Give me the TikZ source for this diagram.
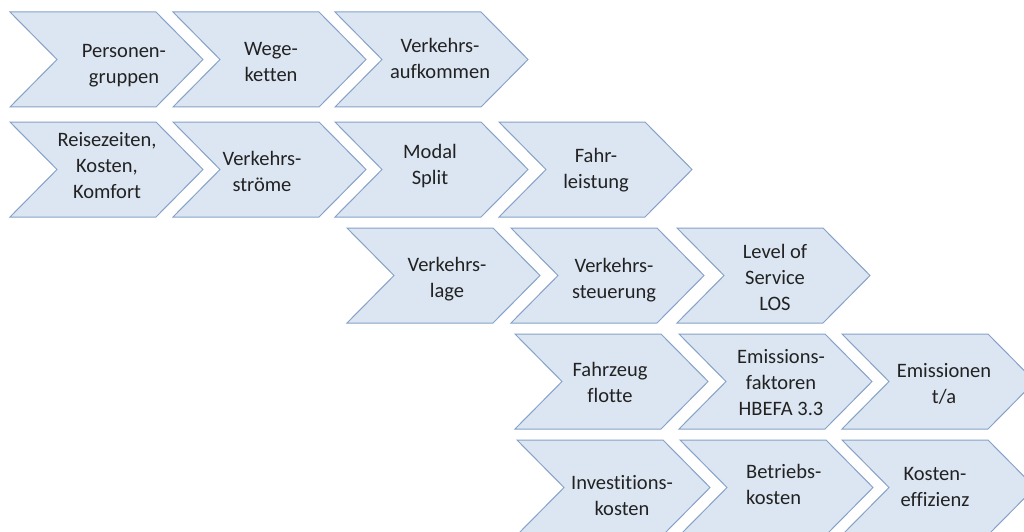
\documentclass[tikz,border=0pt]{standalone}
\usepackage{fontspec}
\setmainfont{Carlito}[Ligatures={NoCommon}]
\definecolor{chevfill}{HTML}{DCE6F2}
\definecolor{chevline}{HTML}{86A2C8}
\definecolor{chevtext}{HTML}{222222}
\tikzset{
  chevshape/.style={fill=chevfill, draw=chevline, line width=1pt, line join=miter},
  chevlabel/.style={font=\fontsize{20.5}{26}\selectfont, text=chevtext, align=center, inner sep=0pt},
}
% chevron: #1 = left x, #2 = top y (body 146 wide, point 47 deep, 95 high)
\newcommand\chevpath[2]{%
  \path[chevshape] (#1,#2) -- ++(146,0) -- ++(47,47.5) -- ++(-47,47.5)
    -- ++(-146,0) -- ++(47,-47.5) -- cycle;}
\begin{document}
\begin{tikzpicture}[x=1pt,y=-1pt]
\path[use as bounding box] (0,0) rectangle (1024,532);
\clip (0,0) rectangle (1024,532);
\fill[white] (0,0) rectangle (1024,532);

% row 1
\chevpath{10}{12}
\chevpath{173}{12}
\chevpath{335}{12}
\node[chevlabel] (personen) at (124,65) {\strut Personen-\\\strut gruppen};
\node[chevlabel] (wege) at (271,63) {\strut Wege-\\\strut ketten};
\node[chevlabel] (aufkommen) at (440,60) {\strut Verkehrs-\\\strut aufkommen};

% row 2
\chevpath{10}{122}
\chevpath{173}{122}
\chevpath{335}{122}
\chevpath{499}{122}
\node[chevlabel] (reisezeiten) at (107,167) {\strut Reisezeiten,\\\strut Kosten,\\\strut Komfort};
\node[chevlabel] (stroeme) at (262,173) {\strut Verkehrs-\\\strut ströme};
\node[chevlabel] (modal) at (430,166) {\strut Modal\\\strut Split};
\node[chevlabel] (fahrleistung) at (596,170) {\strut Fahr-\\\strut leistung};

% row 3
\chevpath{347}{228}
\chevpath{511}{228}
\chevpath{677}{228}
\node[chevlabel] (lage) at (447,279) {\strut Verkehrs-\\\strut lage};
\node[chevlabel] (steuerung) at (614,280) {\strut Verkehrs-\\\strut steuerung};
\node[chevlabel] (los) at (775,279) {\strut Level of\\\strut Service\\\strut LOS};

% row 4
\chevpath{515}{334}
\chevpath{679}{334}
\chevpath{842}{334}
\node[chevlabel] (flotte) at (610,384) {\strut Fahrzeug\\\strut flotte};
\node[chevlabel] (faktoren) at (781,384) {\strut Emissions-\\\strut faktoren\\\strut HBEFA 3.3};
\node[chevlabel] (emissionen) at (944,385) {\strut Emissionen\\\strut t/a};

% row 5
\chevpath{517}{440}
\chevpath{680}{440}
\chevpath{842}{440}
\node[chevlabel] (investition) at (622,497) {\strut Investitions-\\\strut kosten};
\node[chevlabel, align=left, anchor=west] (betrieb) at (746,486) {\strut Betriebs-\\\strut kosten};
\node[chevlabel] (effizienz) at (935,488) {\strut Kosten-\\\strut effizienz};
\end{tikzpicture}
\end{document}
